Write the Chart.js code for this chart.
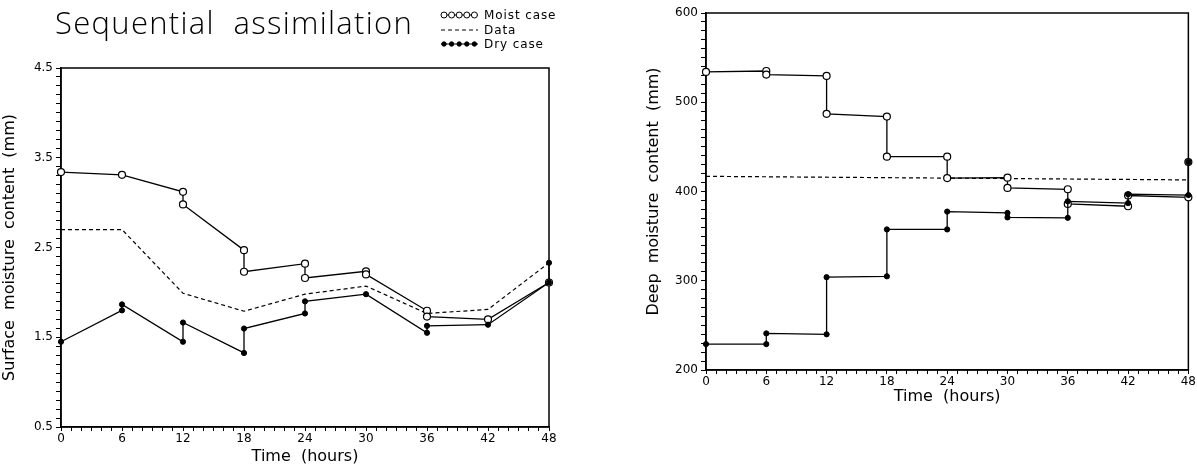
<!DOCTYPE html>
<html>
<head>
<meta charset="utf-8">
<script src="https://cdn.jsdelivr.net/npm/chart.js@4.4.0/dist/chart.umd.min.js"></script>
<style>
    html, body { margin: 0; padding: 0; background: #fff; }
    #wrap { position: relative; width: 1197px; height: 471px; overflow: hidden; }
    .box { position: absolute; top: 0; }
    #left { left: 0; }
    #right { left: 640px; }
</style>
</head>
<body>
<div id="wrap">
    <div class="box" id="left"><canvas id="surfaceChart" width="575" height="471"></canvas></div>
    <div class="box" id="right"><canvas id="deepChart" width="557" height="471"></canvas></div>
</div>
<script>
// Surface moisture (left panel) - repeated times are the analysis jumps
const surfMoistTime = [0, 6, 12, 12, 18, 18, 24, 24, 30, 30, 36, 36, 42, 48];
const surfMoistVal  = [3.34, 3.31, 3.12, 2.98, 2.47, 2.23, 2.32, 2.16, 2.235, 2.20, 1.795, 1.73, 1.70, 2.11];
const surfDryTime   = [0, 6, 6, 12, 12, 18, 18, 24, 24, 30, 36, 36, 42, 48, 48];
const surfDryVal    = [1.45, 1.80, 1.866, 1.45, 1.664, 1.325, 1.597, 1.765, 1.90, 1.98, 1.55, 1.627, 1.64, 2.11, 2.33];
const surfDataTime  = [0, 6, 12, 18, 24, 30, 36, 42, 48];
const surfDataVal   = [2.70, 2.70, 1.99, 1.79, 1.98, 2.07, 1.765, 1.81, 2.33];

// Deep moisture (right panel)
const deepMoistTime = [0, 6, 6, 12, 12, 18, 18, 24, 24, 30, 30, 36, 36, 42, 42, 48, 48];
const deepMoistVal  = [534, 535, 531, 529.5, 487, 484, 439, 439, 415, 415.5, 404, 402.5, 386, 383.5, 395.5, 393.5, 433];
const deepDryTime   = [0, 6, 6, 12, 12, 18, 18, 24, 24, 30, 30, 36, 36, 42, 42, 48, 48];
const deepDryVal    = [229, 229, 241, 240, 304, 305, 357.5, 357.5, 377.5, 376, 371, 370.5, 389, 387, 397, 396, 433];
const deepDataTime  = [0, 48];
const deepDataVal   = [417, 413];

const FONT = "'DejaVu Sans', sans-serif";

function toPoints(xs, ys) {
    return xs.map((x, i) => ({ x: x, y: ys[i] }));
}

function buildDatasets(moistT, moistV, dataT, dataV, dryT, dryV) {
    return [
        {
            label: 'Moist case',
            data: toPoints(moistT, moistV),
            order: 2,
            borderColor: '#000',
            borderWidth: 1.3,
            pointStyle: 'circle',
            pointRadius: 3.5,
            pointBackgroundColor: '#fff',
            pointBorderColor: '#000',
            pointBorderWidth: 1.2,
            tension: 0,
            clip: false
        },
        {
            label: 'Data',
            data: toPoints(dataT, dataV),
            order: 3,
            borderColor: '#000',
            borderWidth: 1.2,
            borderDash: [4, 3],
            pointRadius: 0,
            tension: 0,
            clip: false
        },
        {
            label: 'Dry case',
            data: toPoints(dryT, dryV),
            order: 1,
            borderColor: '#000',
            borderWidth: 1.3,
            pointStyle: 'circle',
            pointRadius: 2.6,
            pointBackgroundColor: '#000',
            pointBorderColor: '#000',
            pointBorderWidth: 1,
            tension: 0,
            clip: false
        }
    ];
}

// Draws the box around the plot
const framePlugin = {
    id: 'frame',
    beforeDatasetsDraw(chart) {
        const a = chart.chartArea;
        const ctx = chart.ctx;
        ctx.save();
        ctx.strokeStyle = '#000';
        ctx.lineWidth = 1.5;
        ctx.strokeRect(a.left, a.top, a.right - a.left, a.bottom - a.top);
        ctx.restore();
    }
};

// Title and sample-symbol legend of the left panel
const headerPlugin = {
    id: 'header',
    afterDraw(chart) {
        const ctx = chart.ctx;
        ctx.save();
        ctx.fillStyle = '#000';
        ctx.font = "300 31px 'Open Sans', sans-serif";
        ctx.textBaseline = 'alphabetic';
        ctx.letterSpacing = '1.3px';
        ctx.fillText('Sequential  assimilation', 55, 34);

        const sets = chart.data.datasets;
        const x0 = 441, x1 = 478;
        const rows = [15, 30, 44];
        ctx.font = "12px " + FONT;
        ctx.letterSpacing = '0.9px';
        ctx.textBaseline = 'middle';
        sets.forEach((ds, i) => {
            const y = rows[i];
            ctx.strokeStyle = '#000';
            ctx.lineWidth = 1;
            ctx.setLineDash(ds.borderDash || []);
            ctx.beginPath();
            ctx.moveTo(x0, y);
            ctx.lineTo(x1, y);
            ctx.stroke();
            ctx.setLineDash([]);
            if (ds.pointRadius > 0) {
                const r = ds.pointBackgroundColor === '#000' ? 2.2 : 3;
                for (let k = 0; k < 5; k++) {
                    const px = x0 + 3 + k * 7.6;
                    ctx.beginPath();
                    ctx.arc(px, y, r, 0, Math.PI * 2);
                    ctx.fillStyle = ds.pointBackgroundColor;
                    ctx.fill();
                    ctx.stroke();
                }
            }
            ctx.fillStyle = '#000';
            ctx.fillText(ds.label, x1 + 6, y + 1);
        });
        ctx.restore();
    }
};

function scalesFor(yMin, yMax, yStep, yMajor, yTitle, yWidth, xHeight, fmt) {
    return {
        x: {
            type: 'linear',
            min: 0,
            max: 48,
            ticks: {
                stepSize: 1,
                autoSkip: false,
                maxRotation: 0,
                color: '#000',
                padding: 1,
                font: { family: FONT, size: 12 },
                callback: v => (v % 6 === 0 ? String(v) : '')
            },
            grid: { drawOnChartArea: false, tickLength: 4, color: '#000', lineWidth: 1 },
            border: { color: '#000', width: 1.5 },
            title: {
                display: true,
                text: 'Time  (hours)',
                color: '#000',
                font: { family: FONT, size: 16 },
                padding: { top: -2, bottom: 0 }
            },
            afterFit(scale) { scale.height = xHeight; }
        },
        y: {
            type: 'linear',
            min: yMin,
            max: yMax,
            ticks: {
                stepSize: yStep,
                autoSkip: false,
                color: '#000',
                padding: 3,
                font: { family: FONT, size: 12 },
                callback: v => {
                    const k = (v - yMin) / yMajor;
                    return Math.abs(k - Math.round(k)) < 1e-6 ? fmt(v) : '';
                }
            },
            grid: { drawOnChartArea: false, tickLength: 5, color: '#000', lineWidth: 1 },
            border: { color: '#000', width: 1.5 },
            title: {
                display: true,
                text: yTitle,
                color: '#000',
                font: { family: FONT, size: 16 },
                padding: { top: 0, bottom: 2 }
            },
            afterFit(scale) { scale.width = yWidth; }
        }
    };
}

function makeChart(id, datasets, scales, padding, plugins) {
    const ctx = document.getElementById(id).getContext('2d');
    return new Chart(ctx, {
        type: 'line',
        data: { datasets: datasets },
        options: {
            responsive: false,
            animation: false,
            layout: { padding: padding },
            plugins: { legend: { display: false }, tooltip: { enabled: false } },
            scales: scales
        },
        plugins: plugins
    });
}

makeChart(
    'surfaceChart',
    buildDatasets(surfMoistTime, surfMoistVal, surfDataTime, surfDataVal, surfDryTime, surfDryVal),
    scalesFor(0.5, 4.5, 0.1, 1, 'Surface  moisture  content  (mm)', 61, 39, v => v.toFixed(1)),
    { top: 68, left: 0, right: 26, bottom: 5 },
    [framePlugin, headerPlugin]
);

makeChart(
    'deepChart',
    buildDatasets(deepMoistTime, deepMoistVal, deepDataTime, deepDataVal, deepDryTime, deepDryVal),
    scalesFor(200, 600, 10, 100, 'Deep  moisture  content  (mm)', 62, 36, v => String(Math.round(v))),
    { top: 13, left: 4, right: 7, bottom: 65 },
    [framePlugin]
);
</script>
</body>
</html>
